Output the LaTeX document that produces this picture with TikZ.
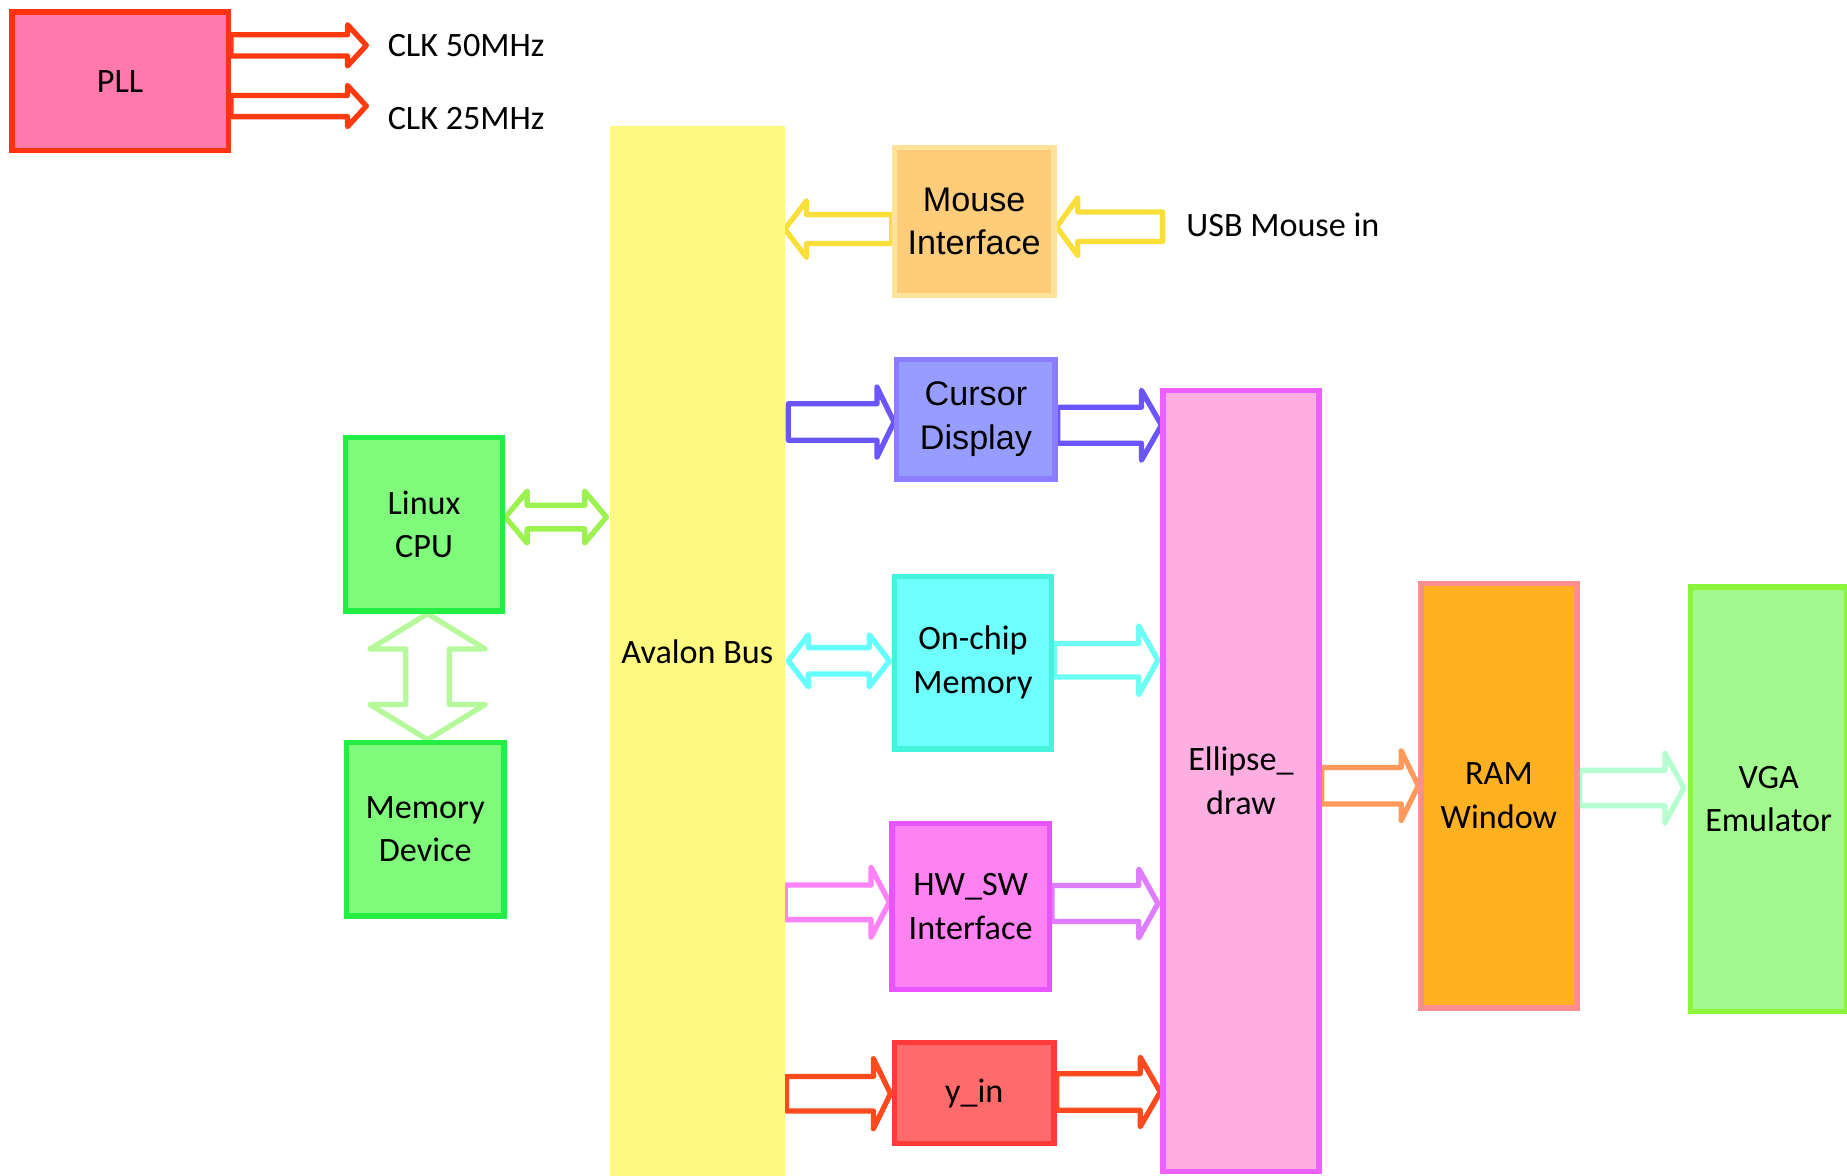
\documentclass[tikz,border=0pt]{standalone}
\usepackage{fontspec}
\setmainfont{Carlito}
\newfontfamily\helv{Liberation Sans}
\usetikzlibrary{calc,backgrounds}

\definecolor{pllFill}{HTML}{FF79AC}
\definecolor{pllLine}{HTML}{FF3311}
\definecolor{pllArrow}{HTML}{FF3A10}
\definecolor{avalonFill}{HTML}{FFF97F}
\definecolor{mouseFill}{HTML}{FFCC7A}
\definecolor{mouseLine}{HTML}{FFE39A}
\definecolor{mouseArrow}{HTML}{FADF3A}
\definecolor{cursorFill}{HTML}{979DFF}
\definecolor{cursorLine}{HTML}{8C7CFF}
\definecolor{cursorArrow}{HTML}{6A55FF}
\definecolor{cpuFill}{HTML}{80FA7A}
\definecolor{cpuLine}{HTML}{22EE44}
\definecolor{cpuBusArrow}{HTML}{9CF24E}
\definecolor{memArrow}{HTML}{B5F99A}
\definecolor{onchipFill}{HTML}{6EFFFF}
\definecolor{onchipLine}{HTML}{44F3DC}
\definecolor{cyanArrow}{HTML}{66FFFF}
\definecolor{onchipOut}{HTML}{6CFFF3}
\definecolor{hwFill}{HTML}{FF82F2}
\definecolor{hwLine}{HTML}{E855FF}
\definecolor{hwIn}{HTML}{FF82F8}
\definecolor{hwOut}{HTML}{DF7CFF}
\definecolor{yinFill}{HTML}{FF6A6A}
\definecolor{yinLine}{HTML}{FF3A3A}
\definecolor{yinArrow}{HTML}{FF4A1E}
\definecolor{ellFill}{HTML}{FFAEE2}
\definecolor{ellLine}{HTML}{EE60FF}
\definecolor{ramArrow}{HTML}{FF9A5C}
\definecolor{ramFill}{HTML}{FFB122}
\definecolor{ramLine}{HTML}{FF8E8E}
\definecolor{vgaArrow}{HTML}{B5FFD0}
\definecolor{vgaFill}{HTML}{A2FA8E}
\definecolor{vgaLine}{HTML}{8AF53A}

\tikzset{
  txt/.style={font=\fontsize{29}{37}\selectfont, text=black},
  box/.style={rectangle, draw, line width=4.5pt, align=center, inner sep=0pt, txt},
  lbl/.style={inner sep=0pt, txt, anchor=west},
  barrow/.style={draw=#1, line width=4.5pt, line join=round, fill=white},
}

% single-headed hollow block arrow: colour, from, to, shaft half-width, head half-width, head length
\newcommand\blockarrow[6]{%
  \coordinate (ba-a) at #2;
  \coordinate (ba-b) at #3;
  \coordinate (ba-c) at ($(ba-b)!#6!(ba-a)$);
  \draw[barrow=#1] ($(ba-a)!#4!90:(ba-b)$) -- ($(ba-c)!#4!90:(ba-b)$)
    -- ($(ba-c)!#5!90:(ba-b)$) -- (ba-b) -- ($(ba-c)!#5!-90:(ba-b)$)
    -- ($(ba-c)!#4!-90:(ba-b)$) -- ($(ba-a)!#4!-90:(ba-b)$) -- cycle;
}
% double-headed hollow block arrow, same arguments
\newcommand\dblockarrow[6]{%
  \coordinate (ba-a) at #2;
  \coordinate (ba-b) at #3;
  \coordinate (ba-c) at ($(ba-a)!#6!(ba-b)$);
  \coordinate (ba-d) at ($(ba-b)!#6!(ba-a)$);
  \draw[barrow=#1] (ba-a) -- ($(ba-c)!#5!90:(ba-b)$) -- ($(ba-c)!#4!90:(ba-b)$)
    -- ($(ba-d)!#4!90:(ba-b)$) -- ($(ba-d)!#5!90:(ba-b)$) -- (ba-b)
    -- ($(ba-d)!#5!-90:(ba-b)$) -- ($(ba-d)!#4!-90:(ba-b)$)
    -- ($(ba-c)!#4!-90:(ba-b)$) -- ($(ba-c)!#5!-90:(ba-b)$) -- cycle;
}

\begin{document}
\begin{tikzpicture}[x=1pt, y=-1pt]
\begin{pgfonlayer}{background}
  \fill[white] (0,0) rectangle (1568,998);
\end{pgfonlayer}
\useasboundingbox (0,0) rectangle (1568,998);

% blocks
\node[box, draw=pllLine, fill=pllFill, minimum width=183.5pt, minimum height=117.5pt] (pll) at (102,69) {PLL};
\node[fill=avalonFill, minimum width=148pt, minimum height=893pt, inner sep=0pt, txt] (avalon) at (592,553.5) {Avalon Bus};
\node[box, draw=mouseLine, fill=mouseFill, minimum width=135.5pt, minimum height=125.5pt,
      font={\helv\fontsize{29}{37}\selectfont}] (mouse) at (827,188) {Mouse\\Interface};
\node[box, draw=cursorLine, fill=cursorFill, minimum width=134.5pt, minimum height=101.5pt,
      font={\helv\fontsize{29}{37}\selectfont}] (cursor) at (828.5,356) {Cursor\\Display};
\node[box, draw=cpuLine, fill=cpuFill, minimum width=133.5pt, minimum height=147.5pt] (cpu) at (360,445) {Linux\\CPU};
\node[box, draw=cpuLine, fill=cpuFill, minimum width=133.5pt, minimum height=147.5pt] (memdev) at (361,704) {Memory\\Device};
\node[box, draw=onchipLine, fill=onchipFill, minimum width=133.5pt, minimum height=146.5pt] (onchip) at (826,562.5) {On-chip\\Memory};
\node[box, draw=hwLine, fill=hwFill, minimum width=133.5pt, minimum height=140.5pt] (hwsw) at (824,769.5) {HW\_SW\\Interface};
\node[box, draw=yinLine, fill=yinFill, minimum width=135.5pt, minimum height=85.5pt] (yin) at (827,928) {y\_in};
\node[box, draw=ellLine, fill=ellFill, minimum width=132.5pt, minimum height=663.5pt] (ellipse) at (1053.5,663) {Ellipse\_\\draw};
\node[box, draw=ramLine, fill=ramFill, minimum width=132.5pt, minimum height=360.5pt] (ram) at (1272.5,675.5) {RAM\\Window};
\node[box, draw=vgaLine, fill=vgaFill, minimum width=132.5pt, minimum height=360.5pt] (vga) at (1501.5,678.5) {VGA\\Emulator};

% free labels
\node[lbl] (clk50) at (329,39) {CLK 50MHz};
\node[lbl] (clk25) at (329,101) {CLK 25MHz};
\node[lbl] (usb) at (1007,191) {USB Mouse in};

\coordinate (clk50tip) at ($(clk50.west)+(-18,-0.5)$);
\coordinate (clk25tip) at ($(clk25.west)+(-18,-11)$);
\coordinate (usbtail) at ($(usb.west)+(-20,1.5)$);

% connectors
\begin{pgfonlayer}{background}
  \blockarrow{pllArrow}{($(pll.east)+(0,-30.5)$)}{(clk50tip)}{9pt}{17.5pt}{16pt}
  \blockarrow{pllArrow}{($(pll.east)+(0,21)$)}{(clk25tip)}{9pt}{17.5pt}{16pt}

  \blockarrow{mouseArrow}{($(mouse.west)+(0,6.5)$)}{($(avalon.east |- mouse.west)+(0,6.5)$)}{12.3pt}{24pt}{18.5pt}
  \blockarrow{mouseArrow}{(usbtail)}{($(mouse.east)+(0,4.5)$)}{12.5pt}{24.5pt}{18pt}

  \blockarrow{cursorArrow}{($(avalon.east |- cursor.west)+(3,2.3)$)}{($(cursor.west)+(0,2.3)$)}{15.5pt}{29.7pt}{14.5pt}
  \blockarrow{cursorArrow}{($(cursor.east)+(0,5)$)}{($(ellipse.west |- cursor.east)+(1,5)$)}{15.3pt}{29.7pt}{17pt}

  \dblockarrow{cpuBusArrow}{($(cpu.east)+(0,-6)$)}{($(avalon.west |- cpu.east)+(-3,-6)$)}{10pt}{22pt}{18.5pt}
  \dblockarrow{memArrow}{($(cpu.south)+(3,0)$)}{($(memdev.north)+(2,0)$)}{18.5pt}{49pt}{30pt}

  \dblockarrow{cyanArrow}{($(avalon.east |- onchip.west)+(3,-1.5)$)}{($(onchip.west)+(-2,-1.5)$)}{11.2pt}{22pt}{17pt}
  \blockarrow{onchipOut}{($(onchip.east)+(0,-2)$)}{($(ellipse.west |- onchip.east)+(-2,-2)$)}{14.2pt}{29.2pt}{16.3pt}

  \blockarrow{hwIn}{($(avalon.east |- hwsw.west)+(0.5,-3.5)$)}{($(hwsw.west)+(0,-3.5)$)}{14.7pt}{29.5pt}{15.5pt}
  \blockarrow{hwOut}{($(hwsw.east)+(0,-2.5)$)}{($(ellipse.west |- hwsw.east)+(-2,-2.5)$)}{15.3pt}{29.2pt}{16.2pt}

  \blockarrow{yinArrow}{($(avalon.east |- yin.west)+(1.5,0.5)$)}{($(yin.west)+(-1,0.5)$)}{14.7pt}{29.7pt}{14.5pt}
  \blockarrow{yinArrow}{($(yin.east)+(0,-1)$)}{($(ellipse.west |- yin.east)+(0,-1)$)}{15.5pt}{29.5pt}{17pt}

  \blockarrow{ramArrow}{($(ellipse.east)+(0,4)$)}{($(ram.west)+(0,-8.5)$)}{15.5pt}{29.5pt}{14.5pt}
  \blockarrow{vgaArrow}{($(ram.east)+(0,-6.5)$)}{($(vga.west)+(-3.5,-9.5)$)}{15pt}{29.5pt}{16pt}
\end{pgfonlayer}
\end{tikzpicture}
\end{document}
